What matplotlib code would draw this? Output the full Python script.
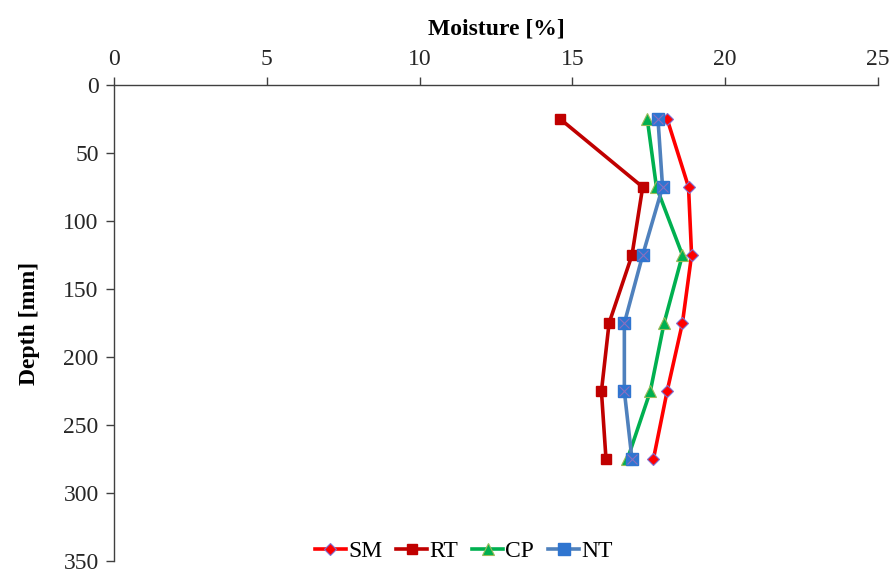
import matplotlib.pyplot as plt

depth = [25, 75, 125, 175, 225, 275]
sm = [18.1, 18.8, 18.9, 18.6, 18.1, 17.65]
rt = [14.6, 17.3, 16.95, 16.2, 15.95, 16.1]
cp = [17.45, 17.75, 18.6, 18.0, 17.55, 16.8]
nt = [17.8, 17.95, 17.3, 16.7, 16.7, 16.95]

plt.rcParams['font.family'] = ['Liberation Serif', 'DejaVu Serif']

fig = plt.figure(figsize=(8.92, 5.74), dpi=100)
ax = fig.add_axes([0.1278, 0.022, 0.8565, 0.830])

ax.plot(sm, depth, color='#FF0000', lw=2.6, marker='D', ms=6,
        mfc='#FF0000', mec='#7F6FD0', mew=0.8, label='SM')
ax.plot(rt, depth, color='#C00000', lw=2.6, marker='s', ms=7.5,
        mfc='#C00000', mec='#C00000', label='RT')
ax.plot(cp, depth, color='#00B050', lw=2.6, marker='^', ms=8.5,
        mfc='#00B050', mec='#9BBB59', mew=0.8, label='CP')
ax.plot(nt, depth, color='#4F81BD', lw=2.6, marker='s', ms=8.5,
        mfc='#2F75D0', mec='#2F75D0', label='NT')
ax.plot(nt, depth, ls='none', marker='x', ms=7, mec='#8A6FC0', mew=0.8)

ax.set_xlim(0, 25)
ax.set_ylim(350, 0)
ax.set_xticks([0, 5, 10, 15, 20, 25])
ax.set_yticks(range(0, 351, 50))
ax.xaxis.tick_top()
ax.xaxis.set_label_position('top')
ax.spines['right'].set_visible(False)
ax.spines['bottom'].set_visible(False)
for s in ['top', 'left']:
    ax.spines[s].set_color('#404040')
    ax.spines[s].set_linewidth(1.0)
ax.tick_params(axis='both', direction='out', length=6, width=1.0,
               color='#404040', labelsize=17, pad=5, labelcolor='#262626')
ax.set_xlabel('Moisture [%]', fontsize=17, fontweight='bold', labelpad=10)
ax.set_ylabel('Depth [mm]', fontsize=17, fontweight='bold', labelpad=17)

ax.legend(loc='lower center', ncol=4, frameon=False, fontsize=17,
          handlelength=1.3, handletextpad=0.1, columnspacing=0.6,
          borderaxespad=0.0, bbox_to_anchor=(0.458, -0.022))

fig.savefig('out.png', dpi=100)
